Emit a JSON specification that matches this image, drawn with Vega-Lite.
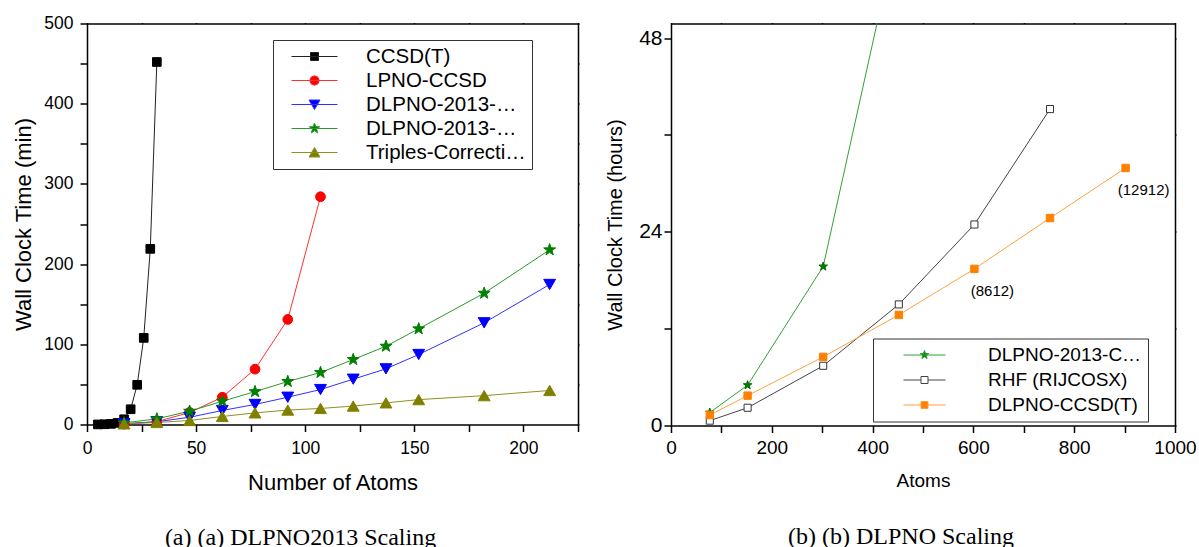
{
  "$schema": "https://vega.github.io/schema/vega-lite/v6.json",
  "background": "white",
  "padding": {"left": 12, "top": 14.5, "right": 0, "bottom": 0},
  "spacing": 25,
  "resolve": {
    "scale": {"color": "independent"},
    "legend": {"color": "independent"}
  },
  "config": {
    "view": {"stroke": null},
    "font": "Liberation Sans",
    "axis": {
      "grid": false,
      "domainColor": "black",
      "domainWidth": 1.5,
      "tickColor": "black",
      "tickWidth": 1.5,
      "labelColor": "black",
      "titleColor": "black",
      "labelFont": "Liberation Sans",
      "titleFont": "Liberation Sans",
      "titleFontWeight": "normal",
      "labelFlush": false,
      "labelOverlap": false
    }
  },
  "datasets": {
    "left": [
      {"series": "CCSD(T)", "atoms": 5, "time": 0.1},
      {"series": "CCSD(T)", "atoms": 8, "time": 0.3},
      {"series": "CCSD(T)", "atoms": 11, "time": 0.8},
      {"series": "CCSD(T)", "atoms": 14, "time": 2},
      {"series": "CCSD(T)", "atoms": 17, "time": 6.5},
      {"series": "CCSD(T)", "atoms": 20, "time": 19},
      {"series": "CCSD(T)", "atoms": 23, "time": 49.5},
      {"series": "CCSD(T)", "atoms": 26, "time": 108},
      {"series": "CCSD(T)", "atoms": 29, "time": 219},
      {"series": "CCSD(T)", "atoms": 32, "time": 452},
      {"series": "LPNO-CCSD", "atoms": 17, "time": 0.5},
      {"series": "LPNO-CCSD", "atoms": 32, "time": 3.5},
      {"series": "LPNO-CCSD", "atoms": 47, "time": 15},
      {"series": "LPNO-CCSD", "atoms": 62, "time": 34},
      {"series": "LPNO-CCSD", "atoms": 77, "time": 69},
      {"series": "LPNO-CCSD", "atoms": 92, "time": 131},
      {"series": "LPNO-CCSD", "atoms": 107, "time": 284},
      {"series": "DLPNO-2013-CCSD", "atoms": 17, "time": 1},
      {"series": "DLPNO-2013-CCSD", "atoms": 32, "time": 3.5},
      {"series": "DLPNO-2013-CCSD", "atoms": 47, "time": 9},
      {"series": "DLPNO-2013-CCSD", "atoms": 62, "time": 17.5},
      {"series": "DLPNO-2013-CCSD", "atoms": 77, "time": 25},
      {"series": "DLPNO-2013-CCSD", "atoms": 92, "time": 34},
      {"series": "DLPNO-2013-CCSD", "atoms": 107, "time": 43.6},
      {"series": "DLPNO-2013-CCSD", "atoms": 122, "time": 56.5},
      {"series": "DLPNO-2013-CCSD", "atoms": 137, "time": 69.4},
      {"series": "DLPNO-2013-CCSD", "atoms": 152, "time": 87.3},
      {"series": "DLPNO-2013-CCSD", "atoms": 182, "time": 126.8},
      {"series": "DLPNO-2013-CCSD", "atoms": 212, "time": 174.6},
      {"series": "DLPNO-2013-CCSD(T)", "atoms": 17, "time": 2},
      {"series": "DLPNO-2013-CCSD(T)", "atoms": 32, "time": 7},
      {"series": "DLPNO-2013-CCSD(T)", "atoms": 47, "time": 16.6},
      {"series": "DLPNO-2013-CCSD(T)", "atoms": 62, "time": 29},
      {"series": "DLPNO-2013-CCSD(T)", "atoms": 77, "time": 41},
      {"series": "DLPNO-2013-CCSD(T)", "atoms": 92, "time": 53.6},
      {"series": "DLPNO-2013-CCSD(T)", "atoms": 107, "time": 64.8},
      {"series": "DLPNO-2013-CCSD(T)", "atoms": 122, "time": 81},
      {"series": "DLPNO-2013-CCSD(T)", "atoms": 137, "time": 97.6},
      {"series": "DLPNO-2013-CCSD(T)", "atoms": 152, "time": 119.3},
      {"series": "DLPNO-2013-CCSD(T)", "atoms": 182, "time": 163.7},
      {"series": "DLPNO-2013-CCSD(T)", "atoms": 212, "time": 217.8},
      {"series": "Triples-Correction", "atoms": 17, "time": 0.8},
      {"series": "Triples-Correction", "atoms": 32, "time": 2.5},
      {"series": "Triples-Correction", "atoms": 47, "time": 5},
      {"series": "Triples-Correction", "atoms": 62, "time": 10},
      {"series": "Triples-Correction", "atoms": 77, "time": 14.5},
      {"series": "Triples-Correction", "atoms": 92, "time": 18},
      {"series": "Triples-Correction", "atoms": 107, "time": 20},
      {"series": "Triples-Correction", "atoms": 122, "time": 23},
      {"series": "Triples-Correction", "atoms": 137, "time": 27},
      {"series": "Triples-Correction", "atoms": 152, "time": 31},
      {"series": "Triples-Correction", "atoms": 182, "time": 36},
      {"series": "Triples-Correction", "atoms": 212, "time": 42.4}
    ],
    "right": [
      {"series": "DLPNO-2013-CCSD(T)", "atoms": 77, "time": 1.6},
      {"series": "DLPNO-2013-CCSD(T)", "atoms": 152, "time": 5.0},
      {"series": "DLPNO-2013-CCSD(T)", "atoms": 302, "time": 19.7},
      {"series": "DLPNO-2013-CCSD(T)", "atoms": 452, "time": 62},
      {"series": "RHF (RIJCOSX)", "atoms": 77, "time": 0.6},
      {"series": "RHF (RIJCOSX)", "atoms": 152, "time": 2.2},
      {"series": "RHF (RIJCOSX)", "atoms": 302, "time": 7.4},
      {"series": "RHF (RIJCOSX)", "atoms": 452, "time": 15.0},
      {"series": "RHF (RIJCOSX)", "atoms": 602, "time": 24.9},
      {"series": "RHF (RIJCOSX)", "atoms": 752, "time": 39.2},
      {"series": "DLPNO-CCSD(T)", "atoms": 77, "time": 1.3},
      {"series": "DLPNO-CCSD(T)", "atoms": 152, "time": 3.7},
      {"series": "DLPNO-CCSD(T)", "atoms": 302, "time": 8.5},
      {"series": "DLPNO-CCSD(T)", "atoms": 452, "time": 13.7},
      {"series": "DLPNO-CCSD(T)", "atoms": 602, "time": 19.4},
      {"series": "DLPNO-CCSD(T)", "atoms": 752, "time": 25.7},
      {"series": "DLPNO-CCSD(T)", "atoms": 902, "time": 31.9}
    ],
    "notes": [
      {"atoms": 602, "time": 19.4, "label": "(8612)"},
      {"atoms": 902, "time": 31.9, "label": "(12912)"}
    ]
  },
  "hconcat": [
    {
      "width": 491,
      "height": 401,
      "title": {"text": "(a) (a) DLPNO2013 Scaling", "orient": "bottom", "frame": "group", "anchor": "middle", "dx": -32, "offset": 33, "font": "Liberation Serif", "fontSize": 24, "fontWeight": "normal", "color": "black"},
      "data": {"name": "left"},
      "resolve": {"axis": {"x": "independent", "y": "independent"}},
      "layer": [
        {
          "mark": {"type": "line", "strokeWidth": 1},
          "encoding": {
            "x": {"field": "atoms", "type": "quantitative", "scale": {"domain": [0, 225], "nice": false},
              "axis": {"orient": "bottom", "values": [0, 25, 50, 75, 100, 125, 150, 175, 200, 225], "labelExpr": "datum.value % 50 === 0 ? datum.label : ''", "tickSize": 7, "labelPadding": 8, "labelFontSize": 17.5, "title": "Number of Atoms", "titleFontSize": 22, "titlePadding": 15,
                "encode": {"ticks": {"update": {"y2": {"signal": "datum.value % 50 === 0 ? 7 : 4"}}}}}},
            "y": {"field": "time", "type": "quantitative", "scale": {"domain": [0, 500], "nice": false},
              "axis": {"orient": "left", "values": [0, 50, 100, 150, 200, 250, 300, 350, 400, 450, 500], "labelExpr": "datum.value % 100 === 0 ? datum.label : ''", "tickSize": 7, "labelPadding": 7, "labelFontSize": 17.5, "title": "Wall Clock Time (min)", "titleFontSize": 22, "titlePadding": 8,
                "encode": {"ticks": {"update": {"x2": {"signal": "datum.value % 100 === 0 ? -7 : -4"}}}}}},
            "color": {"field": "series", "type": "nominal",
              "scale": {"domain": ["CCSD(T)", "LPNO-CCSD", "DLPNO-2013-CCSD", "DLPNO-2013-CCSD(T)", "Triples-Correction"], "range": ["#222222", "#ff3030", "#3030ff", "#2a9a2a", "#909020"]},
              "legend": {
                "orient": "none", "legendX": 186, "legendY": 16.5, "title": null,
                "padding": 6, "rowPadding": 3, "symbolSize": 400, "symbolStrokeWidth": 1,
                "symbolOffset": 25, "labelOffset": 41, "labelFontSize": 20.5, "labelFont": "Liberation Sans", "labelColor": "black",
                "strokeColor": "#333333", "fillColor": "white",
                "encode": {"symbols": {"update": {
                  "shape": {"signal": "datum.value === 'CCSD(T)' ? 'M-2.3,0H2.3M-0.4,-0.4H0.4V0.4H-0.4Z' : datum.value === 'LPNO-CCSD' ? 'M-2.3,0H2.3M-0.48,0L-0.34,-0.34L0,-0.48L0.34,-0.34L0.48,0L0.34,0.34L0,0.48L-0.34,0.34Z' : datum.value === 'DLPNO-2013-CCSD' ? 'M-2.3,0H2.3M-0.55,-0.45H0.55L0,0.5Z' : datum.value === 'DLPNO-2013-CCSD(T)' ? 'M-2.3,0H2.3M0,-0.55L0.129,-0.178L0.523,-0.17L0.209,0.068L0.323,0.445L0,0.22L-0.323,0.445L-0.209,0.068L-0.523,-0.17L-0.129,-0.178Z' : 'M-2.3,0H2.3M-0.55,0.45H0.55L0,-0.5Z'"},
                  "fill": {"signal": "datum.value === 'CCSD(T)' ? '#000000' : datum.value === 'LPNO-CCSD' ? '#ff0000' : datum.value === 'DLPNO-2013-CCSD' ? '#0000ff' : datum.value === 'DLPNO-2013-CCSD(T)' ? '#008000' : '#808000'"},
                  "stroke": {"signal": "datum.value === 'CCSD(T)' ? '#000000' : datum.value === 'LPNO-CCSD' ? '#ff0000' : datum.value === 'DLPNO-2013-CCSD' ? '#0000ff' : datum.value === 'DLPNO-2013-CCSD(T)' ? '#008000' : '#808000'"},
                  "size": {"value": 400},
                  "strokeWidth": {"value": 1},
                  "opacity": {"value": 1}
                }}}
              }}
          }
        },
        {
          "transform": [{"filter": {"field": "series", "equal": "CCSD(T)"}}],
          "mark": {"type": "point", "filled": true, "opacity": 1, "strokeWidth": 1, "shape": "square", "size": 75, "fill": "#000000", "stroke": "#000000"},
          "encoding": {
            "x": {"field": "atoms", "type": "quantitative", "scale": {"domain": [0, 225], "nice": false},
              "axis": {"orient": "top", "values": [0, 25, 50, 75, 100, 125, 150, 175, 200, 225], "labels": false, "title": null, "tickSize": 1,
                "encode": {"ticks": {"update": {"y2": {"signal": "datum.value % 50 === 0 ? 8 : 4"}}}}}},
            "y": {"field": "time", "type": "quantitative", "scale": {"domain": [0, 500], "nice": false},
              "axis": {"orient": "right", "values": [0, 50, 100, 150, 200, 250, 300, 350, 400, 450, 500], "labels": false, "title": null, "tickSize": 1,
                "encode": {"ticks": {"update": {"x2": {"signal": "datum.value % 100 === 0 ? -9 : -5"}}}}}}
          }
        },
        {
          "transform": [{"filter": {"field": "series", "equal": "LPNO-CCSD"}}],
          "mark": {"type": "point", "filled": true, "opacity": 1, "strokeWidth": 1, "shape": "circle", "size": 95, "fill": "#ff0000", "stroke": "#ff0000"},
          "encoding": {
            "x": {"field": "atoms", "type": "quantitative", "axis": null},
            "y": {"field": "time", "type": "quantitative", "axis": null}
          }
        },
        {
          "transform": [{"filter": {"field": "series", "equal": "DLPNO-2013-CCSD"}}],
          "mark": {"type": "point", "filled": true, "opacity": 1, "strokeWidth": 1, "shape": "triangle-down", "size": 140, "fill": "#0000ff", "stroke": "#0000ff"},
          "encoding": {
            "x": {"field": "atoms", "type": "quantitative", "axis": null},
            "y": {"field": "time", "type": "quantitative", "axis": null}
          }
        },
        {
          "transform": [{"filter": {"field": "series", "equal": "DLPNO-2013-CCSD(T)"}}],
          "mark": {"type": "point", "filled": true, "opacity": 1, "strokeWidth": 1, "shape": "M0,-1L0.235,-0.324L0.951,-0.309L0.38,0.124L0.588,0.809L0,0.4L-0.588,0.809L-0.38,0.124L-0.951,-0.309L-0.235,-0.324Z", "size": 156, "fill": "#008000", "stroke": "#008000"},
          "encoding": {
            "x": {"field": "atoms", "type": "quantitative", "axis": null},
            "y": {"field": "time", "type": "quantitative", "axis": null}
          }
        },
        {
          "transform": [{"filter": {"field": "series", "equal": "Triples-Correction"}}],
          "mark": {"type": "point", "filled": true, "opacity": 1, "strokeWidth": 1, "shape": "triangle-up", "size": 140, "fill": "#808000", "stroke": "#808000"},
          "encoding": {
            "x": {"field": "atoms", "type": "quantitative", "axis": null},
            "y": {"field": "time", "type": "quantitative", "axis": null}
          }
        }
      ]
    },
    {
      "width": 504,
      "height": 402,
      "title": {"text": "(b) (b) DLPNO Scaling", "orient": "bottom", "frame": "group", "anchor": "middle", "dx": -22, "offset": 34, "font": "Liberation Serif", "fontSize": 24, "fontWeight": "normal", "color": "black"},
      "data": {"name": "right"},
      "resolve": {"axis": {"x": "independent", "y": "independent"}},
      "layer": [
        {
          "mark": {"type": "line", "strokeWidth": 1, "clip": true},
          "encoding": {
            "x": {"field": "atoms", "type": "quantitative", "scale": {"domain": [0, 1000], "nice": false},
              "axis": {"orient": "bottom", "values": [0, 100, 200, 300, 400, 500, 600, 700, 800, 900, 1000], "format": "d", "labelExpr": "datum.value % 200 === 0 ? datum.label : ''", "tickSize": 7, "labelPadding": 6, "labelFontSize": 19, "title": "Atoms", "titleFontSize": 19, "titlePadding": 14,
                "encode": {"ticks": {"update": {"y2": {"signal": "datum.value % 200 === 0 ? 7 : 4"}}}}}},
            "y": {"field": "time", "type": "quantitative", "scale": {"domain": [0, 49.8], "nice": false},
              "axis": {"orient": "left", "values": [0, 12, 24, 36, 48], "labelExpr": "datum.value % 24 === 0 ? datum.label : ''", "tickSize": 7, "labelPadding": 2, "labelFontSize": 21, "title": "Wall Clock Time (hours)", "titleFontSize": 20, "titlePadding": 13,
                "encode": {"ticks": {"update": {"x2": {"signal": "datum.value % 24 === 0 ? -7 : -4"}}}}}},
            "color": {"field": "series", "type": "nominal",
              "scale": {"domain": ["DLPNO-2013-CCSD(T)", "RHF (RIJCOSX)", "DLPNO-CCSD(T)"], "range": ["#33a033", "#444444", "#ffa040"]},
              "legend": {
                "orient": "none", "legendX": 202, "legendY": 315, "title": null,
                "padding": 6, "rowPadding": 4, "symbolSize": 400, "symbolStrokeWidth": 1,
                "symbolOffset": 35, "labelOffset": 53, "labelFontSize": 19, "labelFont": "Liberation Sans", "labelColor": "black",
                "strokeColor": "#333333", "fillColor": "white",
                "encode": {"symbols": {"update": {
                  "shape": {"signal": "datum.value === 'DLPNO-2013-CCSD(T)' ? 'M-2.1,0H2.1M0,-0.45L0.106,-0.146L0.428,-0.139L0.171,0.056L0.265,0.364L0,0.18L-0.265,0.364L-0.171,0.056L-0.428,-0.139L-0.106,-0.146Z' : 'M-2.1,0H-0.35M0.35,0H2.1M-0.35,-0.35H0.35V0.35H-0.35Z'"},
                  "fill": {"signal": "datum.value === 'DLPNO-2013-CCSD(T)' ? '#008000' : datum.value === 'RHF (RIJCOSX)' ? '#ffffff' : '#ff8000'"},
                  "stroke": {"signal": "datum.value === 'DLPNO-2013-CCSD(T)' ? '#33a033' : datum.value === 'RHF (RIJCOSX)' ? '#444444' : '#ffa040'"},
                  "size": {"value": 400},
                  "strokeWidth": {"value": 1},
                  "opacity": {"value": 1}
                }}}
              }}
          }
        },
        {
          "transform": [{"filter": {"field": "series", "equal": "DLPNO-2013-CCSD(T)"}}],
          "mark": {"type": "point", "filled": true, "opacity": 1, "strokeWidth": 1, "clip": true, "shape": "M0,-1L0.235,-0.324L0.951,-0.309L0.38,0.124L0.588,0.809L0,0.4L-0.588,0.809L-0.38,0.124L-0.951,-0.309L-0.235,-0.324Z", "size": 80, "fill": "#008000", "stroke": "#006600"},
          "encoding": {
            "x": {"field": "atoms", "type": "quantitative", "scale": {"domain": [0, 1000], "nice": false},
              "axis": {"orient": "top", "values": [0, 100, 200, 300, 400, 500, 600, 700, 800, 900, 1000], "labels": false, "title": null, "tickSize": 1,
                "encode": {"ticks": {"update": {"y2": {"signal": "datum.value % 200 === 0 ? 7 : 4"}}}}}},
            "y": {"field": "time", "type": "quantitative", "scale": {"domain": [0, 49.8], "nice": false},
              "axis": {"orient": "right", "values": [0, 12, 24, 36, 48], "labels": false, "title": null, "tickSize": 1,
                "encode": {"ticks": {"update": {"x2": {"signal": "datum.value % 24 === 0 ? -7 : -4"}}}}}}
          }
        },
        {
          "transform": [{"filter": {"field": "series", "equal": "RHF (RIJCOSX)"}}],
          "mark": {"type": "point", "filled": true, "opacity": 1, "strokeWidth": 1, "clip": true, "shape": "square", "size": 50, "fill": "#ffffff", "stroke": "#333333"},
          "encoding": {
            "x": {"field": "atoms", "type": "quantitative", "axis": null},
            "y": {"field": "time", "type": "quantitative", "axis": null}
          }
        },
        {
          "transform": [{"filter": {"field": "series", "equal": "DLPNO-CCSD(T)"}}],
          "mark": {"type": "point", "filled": true, "opacity": 1, "strokeWidth": 1, "clip": true, "shape": "square", "size": 55, "fill": "#ff8000", "stroke": "#ff8000"},
          "encoding": {
            "x": {"field": "atoms", "type": "quantitative", "axis": null},
            "y": {"field": "time", "type": "quantitative", "axis": null}
          }
        },
        {
          "data": {"name": "notes"},
          "mark": {"type": "text", "dx": 18, "dy": 22, "fontSize": 15, "font": "Liberation Sans", "color": "black", "align": "center", "baseline": "middle"},
          "encoding": {
            "x": {"field": "atoms", "type": "quantitative", "axis": null},
            "y": {"field": "time", "type": "quantitative", "axis": null},
            "text": {"field": "label"}
          }
        }
      ]
    }
  ]
}
